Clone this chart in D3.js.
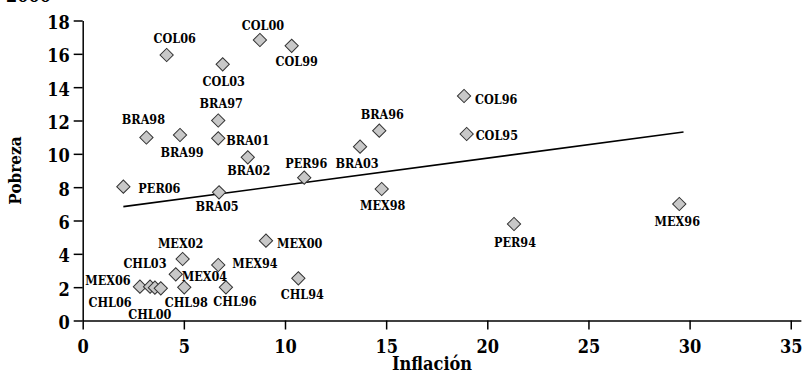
<!DOCTYPE html>
<html><head><meta charset="utf-8">
<script src="https://cdn.jsdelivr.net/npm/d3@7"></script>
<style>
html,body{margin:0;padding:0;background:#fff;}
svg{display:block;}
text{font-family:"DejaVu Serif Condensed","DejaVu Serif",serif;font-weight:bold;font-stretch:condensed;fill:#000;}
</style></head><body>
<svg id="c" width="803" height="380"></svg>
<script>
// ---- data ----
const names = ["COL06","COL03","COL00","COL99","BRA97","BRA01","BRA99","BRA98","BRA02","PER96","BRA05","BRA03","BRA96","MEX98","COL96","COL95","PER94","MEX96","PER06","MEX00","MEX02","MEX94","MEX04","CHL96","CHL98","CHL94","CHL03","CHL06","MEX06","CHL00"];
const inflacion = [4.15,6.92,8.76,10.33,6.70,6.70,4.81,3.15,8.16,10.95,6.74,13.71,14.66,14.78,18.85,18.98,21.32,29.49,2.01,9.06,4.94,6.70,4.60,7.08,5.02,10.66,2.83,3.33,3.57,3.86];
const pobreza   = [15.93,15.37,16.83,16.48,12.0,10.93,11.13,10.98,9.79,8.57,7.69,10.43,11.39,7.89,13.47,11.19,5.79,6.99,8.03,4.79,3.69,3.33,2.77,1.99,1.99,2.53,2.03,2.03,1.97,1.93];
const xTicks = [0,5,10,15,20,25,30,35];
const yTicks = [0,2,4,6,8,10,12,14,16,18];
const trendX = [2.01, 29.7];
const trendY = [6.83, 11.31];
const xTitle = "Inflación", yTitle = "Pobreza", cornerText = "2000";

// ---- label placement (pixel offsets from marker: dx, dy, anchor) ----
const labelPos = {
  COL06:[8,-16,"middle"], COL03:[1,17,"middle"], COL00:[3,-14,"middle"], COL99:[5,16,"middle"],
  BRA97:[3,-17,"middle"], BRA01:[8,2,"start"], BRA99:[2,18,"middle"], BRA98:[-3,-18,"middle"],
  BRA02:[1,13,"middle"], PER96:[2,-14,"middle"], BRA05:[-2,14,"middle"], BRA03:[-3,17,"middle"],
  BRA96:[3,-16,"middle"], MEX98:[1,17,"middle"], COL96:[11,4,"start"], COL95:[9,2,"start"],
  PER94:[1,19,"middle"], MEX96:[-2,18,"middle"], PER06:[15,2,"start"], MEX00:[11,3,"start"],
  MEX02:[-2,-15,"middle"], MEX94:[14,-1,"start"], MEX04:[6,2,"start"], CHL96:[9,14,"middle"],
  CHL98:[2,15,"middle"], CHL94:[4,16,"middle"], CHL03:[5,-23,"middle"], CHL06:[-40,16,"middle"],
  MEX06:[-47,-7,"middle"], CHL00:[-11,26,"middle"]
};

const svg = d3.select("#c");
const x = d3.scaleLinear().domain([0,35.5]).range([82.7, 82.7+35.5*20.23]);
const y = d3.scaleLinear().domain([0,18]).range([320.5, 20.5]);

// axes
const xAxis = svg.append("g").attr("transform",`translate(0,${y(0)})`)
  .call(d3.axisBottom(x).tickValues(xTicks).tickSize(9).tickSizeOuter(0).tickPadding(7));
const yAxis = svg.append("g").attr("transform",`translate(${x(0)},0)`)
  .call(d3.axisLeft(y).tickValues(yTicks).tickSize(9).tickSizeOuter(0).tickPadding(4));
[xAxis,yAxis].forEach(g=>{
  g.select(".domain").attr("stroke","#000").attr("stroke-width",1.5);
  g.selectAll(".tick line").attr("stroke","#000").attr("stroke-width",1.5);
  g.selectAll(".tick text").attr("font-size",18).attr("font-family",null).attr("fill","#000");
});
xAxis.selectAll(".tick text").attr("dy","0.92em");
yAxis.selectAll(".tick text").attr("dy","0.45em");

// trend line
svg.append("line")
  .attr("x1",x(trendX[0])).attr("y1",y(trendY[0]))
  .attr("x2",x(trendX[1])).attr("y2",y(trendY[1]))
  .attr("stroke","#000").attr("stroke-width",1.6);

// points
const pts = names.map((n,i)=>({n, x:inflacion[i], y:pobreza[i]}));
const sym = d3.symbol().type(d3.symbolSquare).size(88);
svg.append("g").selectAll("path").data(pts).join("path")
  .attr("d",sym)
  .attr("transform",d=>`translate(${x(d.x)},${y(d.y)}) rotate(45)`)
  .attr("fill","#c8c8c8").attr("stroke","#333").attr("stroke-width",1);

// labels
svg.append("g").selectAll("text").data(pts).join("text")
  .attr("x",d=>x(d.x)+labelPos[d.n][0])
  .attr("y",d=>y(d.y)+labelPos[d.n][1])
  .attr("text-anchor",d=>labelPos[d.n][2])
  .attr("dy","0.35em")
  .attr("font-size",12.5)
  .text(d=>d.n);

// titles
svg.append("text").attr("x",432).attr("y",370).attr("text-anchor","middle")
  .attr("font-size",18).style("font-stretch","normal").text(xTitle);
svg.append("text").attr("transform",`translate(21,${(y(0)+y(18))/2}) rotate(-90)`)
  .attr("text-anchor","middle").attr("font-size",17).style("font-stretch","normal").text(yTitle);
svg.append("text").attr("x",6).attr("y",2).attr("font-size",18).text(cornerText);
</script></body></html>
